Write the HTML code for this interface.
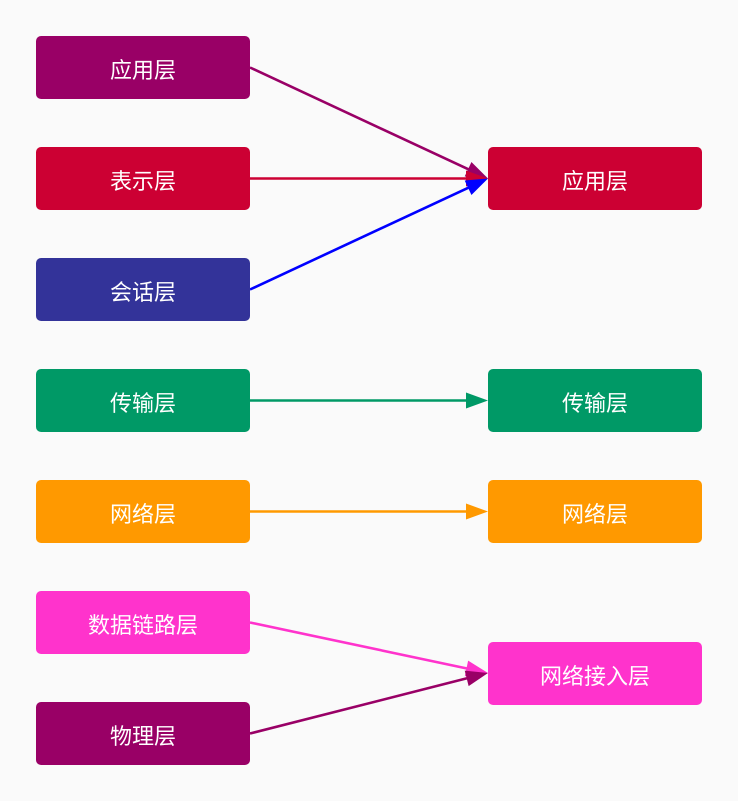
<!DOCTYPE html>
<html><head><meta charset="utf-8"><style>
html,body{margin:0;padding:0;background:#FAFAFA;}
svg{display:block;}
text{font-family:"Liberation Sans","Noto Sans CJK SC",sans-serif;font-size:22px;fill:#fff;}
</style></head><body>
<svg width="738" height="801" viewBox="0 0 738 801" xmlns="http://www.w3.org/2000/svg">
<rect x="0" y="0" width="738" height="801" fill="#FAFAFA"/>
<g stroke-width="2.6" fill="none">
<line x1="250" y1="67.5" x2="469" y2="169.6" stroke="#990066"/>
<line x1="250" y1="178.5" x2="468" y2="178.5" stroke="#CC0033"/>
<line x1="250" y1="289.5" x2="469" y2="187.4" stroke="#0000FF"/>
<line x1="250" y1="400.5" x2="468" y2="400.5" stroke="#009966"/>
<line x1="250" y1="511.5" x2="468" y2="511.5" stroke="#FF9900"/>
<line x1="250" y1="622.5" x2="467" y2="668.5" stroke="#FF33CC"/>
<line x1="250" y1="733.5" x2="467" y2="678.3" stroke="#990066"/>
</g>
<polygon points="488,178.5 464.68,176.45 471.44,161.95" fill="#990066"/>
<polygon points="488,178.5 466,170.5 466,186.5" fill="#CC0033"/>
<polygon points="488,178.5 471.44,195.05 464.68,180.55" fill="#0000FF"/>
<polygon points="488,400.5 466,392.5 466,408.5" fill="#009966"/>
<polygon points="488,511.5 466,503.5 466,519.5" fill="#FF9900"/>
<polygon points="488,673 464.82,676.26 468.14,660.6" fill="#FF33CC"/>
<polygon points="488,673 468.65,686.17 464.71,670.67" fill="#990066"/>
<rect x="36" y="36" width="214" height="63" rx="5" fill="#990066"/>
<rect x="36" y="147" width="214" height="63" rx="5" fill="#CC0033"/>
<rect x="36" y="258" width="214" height="63" rx="5" fill="#333399"/>
<rect x="36" y="369" width="214" height="63" rx="5" fill="#009966"/>
<rect x="36" y="480" width="214" height="63" rx="5" fill="#FF9900"/>
<rect x="36" y="591" width="214" height="63" rx="5" fill="#FF33CC"/>
<rect x="36" y="702" width="214" height="63" rx="5" fill="#990066"/>
<rect x="488" y="147" width="214" height="63" rx="5" fill="#CC0033"/>
<rect x="488" y="369" width="214" height="63" rx="5" fill="#009966"/>
<rect x="488" y="480" width="214" height="63" rx="5" fill="#FF9900"/>
<rect x="488" y="642" width="214" height="63" rx="5" fill="#FF33CC"/>
<g text-anchor="middle">
<text x="143" y="78">应用层</text>
<text x="143" y="189">表示层</text>
<text x="143" y="300">会话层</text>
<text x="143" y="411">传输层</text>
<text x="143" y="522">网络层</text>
<text x="143" y="633">数据链路层</text>
<text x="143" y="744">物理层</text>
<text x="595" y="189">应用层</text>
<text x="595" y="411">传输层</text>
<text x="595" y="522">网络层</text>
<text x="595" y="684">网络接入层</text>
</g>
</svg>
</body></html>
